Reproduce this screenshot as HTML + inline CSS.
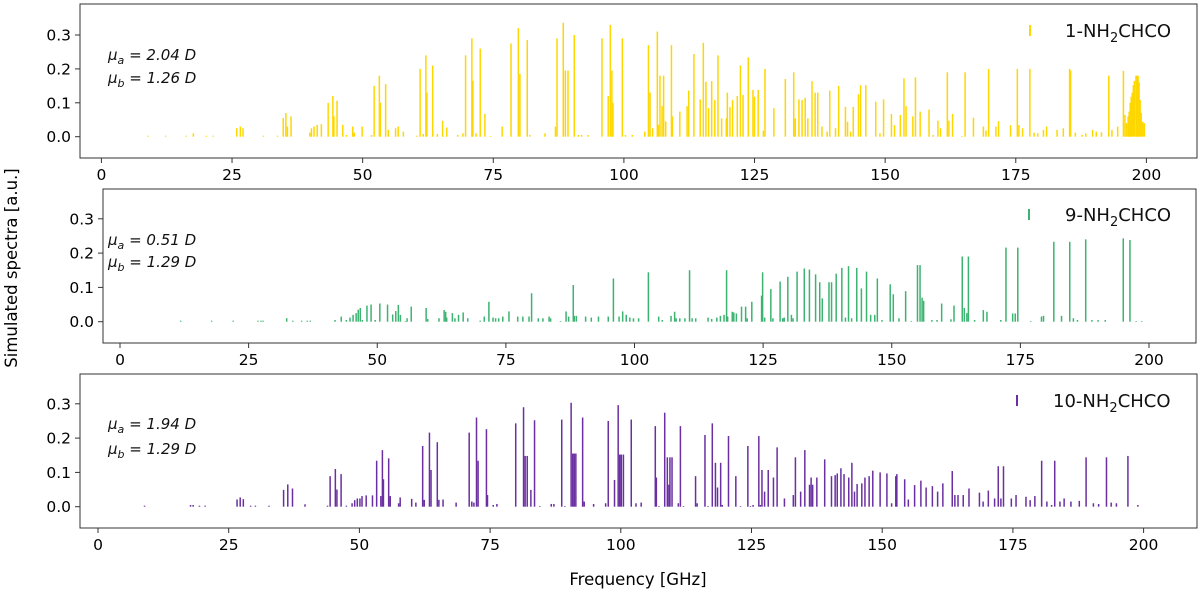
<!DOCTYPE html>
<html><head><meta charset="utf-8"><style>
html,body{margin:0;padding:0;background:#fff}
svg text{font-family:"DejaVu Sans","Liberation Sans",sans-serif}
</style></head><body>
<svg id="chart" width="1200" height="595" xmlns="http://www.w3.org/2000/svg"></svg>
<script>
// ---- data (frequency GHz, intensity a.u.) ----
const freq1=[8.9,12.3,16.2,17.6,20.1,21.4,25.9,26.6,27.1,31,33.7,34.8,35.3,35.6,36.3,39.9,40.2,40.7,41.3,42.1,43.4,44.3,44.5,45.1,46.2,46.9,48.1,48.4,49.9,51.7,52.2,53.2,53.4,54.4,54.9,56.3,56.8,57.8,60.4,61,61.6,62.1,62.3,63.4,64.3,65.3,66.1,68.2,69.2,69.7,70.9,71.1,71.7,72.5,73.4,74.5,76.7,78.4,79.8,80.1,81.5,82,84.9,86.9,87.2,88.4,88.8,89.3,90.5,91.3,91.9,93.1,95.8,97,97.4,97.7,97.9,99.7,100.3,101.6,
104,104.7,105,105.5,106.4,106.6,106.9,107.3,107.6,108,109.1,109.3,110.7,112.1,112.4,113.4,114.6,115.2,115.7,116.2,116.8,117.4,118,118.7,119.6,119.8,120.3,120.8,121.7,122.3,122.8,123.8,124.7,125,125.7,126.7,127,128.7,130.9,132.5,132.8,133.5,134.1,134.7,135.2,136,136.6,137.1,137.9,138.9,139.4,140.5,141.1,142.4,142.8,143.4,143.9,144.9,145.3,146.3,148.2,149,149.7,151.2,151.8,152.9,153.6,154,155.3,155.8,156.7,158.4,159.2,160.1,160.6,161.9,162.2,162.9,164.7,165.3,166.9,168.8,169.3,169.8,171.2,171.7,174,175.3,175.6,176.3,177.7,178.5,179.2,180.3,180.9,182.9,184.1,185.3,185.5,186.4,187.7,188.4,189.7,190.4,191.4,192.8,193.4,194.5,195.6,195.9,196.2,196.5,196.7,196.9,197.1,197.3,197.5,197.7,198,198.2,198.4,198.6,198.8,199,199.3,199.6];
const inten1=[0.003,0.003,0.003,0.01,0.003,0.003,0.025,0.03,0.025,0.003,0.003,0.055,0.07,0.03,0.06,0.012,0.025,0.03,0.035,0.037,0.1,0.12,0.06,0.106,0.035,0.005,0.03,0.012,0.03,0.005,0.15,0.18,0.1,0.155,0.02,0.025,0.03,0.015,0.003,0.2,0.008,0.24,0.13,0.21,0.008,0.047,0.027,0.005,0.01,0.24,0.29,0.165,0.01,0.26,0.067,0.002,0.03,0.275,0.32,0.185,0.285,0.005,0.01,0.03,0.29,0.336,0.195,0.195,0.3,0.005,0.005,0.005,0.29,0.12,0.33,0.195,0.1,0.29,0.005,0.005,
0.015,0.27,0.13,0.025,0.31,0.035,0.18,0.09,0.18,0.045,0.27,0.06,0.074,0.09,0.136,0.244,0.11,0.277,0.162,0.084,0.164,0.108,0.24,0.054,0.054,0.13,0.087,0.108,0.12,0.21,0.123,0.234,0.138,0.118,0.138,0.018,0.2,0.084,0.17,0.19,0.054,0.11,0.108,0.115,0.054,0.164,0.13,0.13,0.03,0.015,0.136,0.025,0.15,0.088,0.044,0.015,0.088,0.125,0.152,0.152,0.103,0.01,0.11,0.067,0.034,0.064,0.172,0.09,0.06,0.175,0.074,0.08,0.005,0.047,0.025,0.19,0.047,0.067,0.002,0.19,0.056,0.03,0.018,0.2,0.03,0.046,0.034,0.2,0.034,0.025,0.2,0.012,0.01,0.02,0.03,0.02,0.025,0.2,0.195,0.012,0.005,0.01,0.02,0.015,0.013,0.18,0.02,0.03,0.194,0.064,0.04,0.06,0.074,0.1,0.118,0.13,0.152,0.165,0.18,0.18,0.18,0.16,0.108,0.07,0.044,0.04];
const freq2=[11.8,17.8,22,26.8,27.4,27.8,32.4,33.6,35.3,36.4,37,41.8,43,44,44.7,45.3,45.9,46.3,46.7,47.1,48,48.8,49.6,50.5,52,53,53.6,54.1,54.5,55.5,55.8,56.6,59.5,59.8,62,63,63.3,63.5,64.6,65.1,65.8,66.7,67.6,70,70.8,71.7,72.5,73,73.6,74.4,75.6,77.3,78.3,79.5,80,81.3,82.2,83.4,83.7,85.6,86.7,87.2,88.1,88.3,88.7,90.5,91.6,93,94.9,95.9,97,97.7,98.4,99.1,99.8,100.8,
102.7,104.7,105.4,107.1,107.8,108.1,108.8,109.8,110.7,111.2,111.9,114.3,115,116,116.7,117.4,117.9,118.1,119,119.3,119.8,120.8,121.6,121.9,122.8,124.7,124.9,125.3,126.5,126.9,128.3,128.8,129.1,129.8,130.5,130.8,131.6,133,134,135.2,136,136.5,137.8,138.3,139.2,140.3,141,141.6,142.2,143.2,144.1,145.1,145.9,146.7,147.2,148.1,149.7,150.3,151.4,152.7,153.8,155,155.5,155.9,156.2,157.8,158.8,159.7,161.5,162.1,163.7,164.1,164.6,164.9,166.1,167.8,168.5,171.2,172.2,173.5,174,174.5,177,179.1,179.5,181.5,183,184.6,185.3,186.1,187.7,188.9,190.1,191.5,195,196.3,197.5,198.6];
const inten2=[0.003,0.003,0.003,0.003,0.003,0.003,0.01,0.003,0.003,0.003,0.003,0.005,0.015,0.005,0.012,0.02,0.025,0.035,0.04,0.005,0.047,0.05,0.005,0.053,0.05,0.021,0.031,0.049,0.02,0.002,0.01,0.044,0.04,0.008,0.01,0.034,0.029,0.012,0.025,0.01,0.02,0.027,0.01,0.003,0.015,0.058,0.012,0.01,0.01,0.015,0.03,0.015,0.015,0.015,0.083,0.01,0.01,0.015,0.01,0.002,0.03,0.015,0.107,0.017,0.017,0.015,0.012,0.015,0.015,0.126,0.015,0.03,0.02,0.012,0.01,0.01,
0.144,0.015,0.005,0.017,0.029,0.01,0.01,0.01,0.15,0.01,0.01,0.012,0.008,0.012,0.017,0.02,0.15,0.015,0.029,0.027,0.024,0.044,0.044,0.01,0.058,0.076,0.144,0.012,0.095,0.01,0.117,0.01,0.012,0.131,0.02,0.01,0.146,0.155,0.152,0.138,0.115,0.068,0.115,0.115,0.14,0.157,0.012,0.162,0.01,0.157,0.097,0.146,0.02,0.02,0.126,0.005,0.109,0.08,0.01,0.089,0.002,0.165,0.165,0.07,0.061,0.005,0.005,0.053,0.007,0.047,0.19,0.04,0.025,0.19,0.005,0.034,0.029,0.005,0.216,0.024,0.024,0.216,0.002,0.015,0.017,0.233,0.017,0.233,0.01,0.005,0.24,0.005,0.005,0.005,0.243,0.238,0.002,0.002];
const freq3=[8.9,17.7,18.2,19.4,20.5,26.6,27.2,27.8,29.2,30.1,32.7,35.5,36.3,37.2,39.6,43.9,44.4,45.4,45.7,46.5,47.5,48.6,49.1,49.6,50.1,50.5,51.3,52.5,53.3,54.1,54.4,54.6,55.6,55.9,57.5,57.8,60,60.8,62.1,62.4,63.4,63.7,64.9,65.2,66,68.5,71,71.5,71.9,72.4,72.7,74.3,74.5,75.6,76.3,79.9,81.4,81.7,82.1,82.8,83.5,84.5,86.7,87.2,88.7,89.3,90.5,90.8,91.1,91.4,92.7,93,94.8,97.1,97.6,98.8,99.5,99.8,100.1,100.5,102,102.9,
103.9,106.6,106.8,107.3,108.4,108.9,109.2,109.4,109.8,111,111.4,112,114.3,114.6,116.1,116.7,117.5,118.1,118.5,119.1,119.4,120.6,122,122.9,124.3,124.8,125.3,126.4,126.7,127,127.5,128.2,129.2,129.9,131.3,133,133.4,134.4,135.2,136.1,136.4,136.7,137.5,139,140.3,141,141.4,142.1,142.7,143.6,144.2,144.7,145.2,146.1,146.7,147.5,148.2,149.6,150.9,151.8,152.6,152.8,154.3,155,156.2,157.4,158.4,159.6,160.6,161.6,163.4,163.9,164.5,165.5,166.6,168.6,169.3,170.3,171.5,172.2,172.7,173.2,174.7,175.6,177.5,178.3,179.2,180.5,181.5,182.4,183,184,184.8,186.1,187.7,189,190.4,191.4,192.9,193.8,194.8,197,198.9];
const inten3=[0.003,0.005,0.005,0.003,0.003,0.021,0.027,0.022,0.003,0.003,0.003,0.049,0.065,0.053,0.007,0.003,0.089,0.11,0.05,0.095,0.003,0.01,0.019,0.024,0.024,0.031,0.033,0.033,0.134,0.031,0.165,0.08,0.141,0.031,0.01,0.027,0.023,0.012,0.177,0.02,0.216,0.107,0.188,0.02,0.021,0.012,0.216,0.015,0.012,0.26,0.134,0.226,0.034,0.005,0.008,0.243,0.29,0.148,0.148,0.049,0.252,0.002,0.008,0.008,0.254,0.002,0.303,0.155,0.155,0.155,0.26,0.015,0.008,0.01,0.25,0.078,0.296,0.152,0.152,0.152,0.254,0.01,
0.012,0.235,0.085,0.002,0.274,0.144,0.064,0.144,0.144,0.01,0.235,0.002,0.089,0.01,0.209,0.002,0.243,0.128,0.056,0.128,0.005,0.206,0.089,0.002,0.177,0.002,0.005,0.206,0.005,0.107,0.044,0.107,0.085,0.173,0.024,0.034,0.144,0.044,0.165,0.064,0.085,0.064,0.085,0.138,0.089,0.092,0.097,0.112,0.095,0.085,0.128,0.044,0.066,0.068,0.085,0.089,0.105,0.1,0.097,0.01,0.089,0.095,0.08,0.021,0.063,0.076,0.056,0.06,0.044,0.068,0.104,0.034,0.034,0.034,0.053,0.041,0.015,0.047,0.024,0.118,0.024,0.118,0.024,0.034,0.029,0.019,0.031,0.134,0.015,0.005,0.134,0.015,0.024,0.015,0.017,0.144,0.01,0.008,0.144,0.012,0.01,0.148,0.005];
const yTicks=[0.0,0.1,0.2,0.3];
const xTicks=[0,25,50,75,100,125,150,175,200];
const panels=[
 {id:'panel-1',f:freq1,v:inten1,color:'#FFD700',L:80,R:1197,T:4,B:158,x0:101.4,sx:5.225,y0:136.7,sy:339,ma:'2.04',mb:'1.26',label:'1-',ann:[108,60,83],leg:[1030,1065,37]},
 {id:'panel-2',f:freq2,v:inten2,color:'#3CB371',L:103,R:1196,T:189,B:343,x0:120,sx:5.145,y0:321.7,sy:343,ma:'0.51',mb:'1.29',label:'9-',ann:[108,245,267],leg:[1029,1065,221]},
 {id:'panel-3',f:freq3,v:inten3,color:'#6A2FA0',L:80,R:1197,T:374,B:528,x0:98,sx:5.228,y0:506.7,sy:343,ma:'1.94',mb:'1.29',label:'10-',ann:[108,429,454],leg:[1017,1053,407]}
];
const NS='http://www.w3.org/2000/svg';
const svg=document.getElementById('chart');
function mk(tag,attrs,parent){const e=document.createElementNS(NS,tag);for(const k in attrs)e.setAttribute(k,attrs[k]);(parent||svg).appendChild(e);return e;}
panels.forEach(p=>{
 const g=mk('g',{});
 
 
 const X=f=>p.x0+f*p.sx, Y=v=>p.y0-v*p.sy;
 p.f.forEach((f,i)=>{
  const l=mk('line',{x1:X(f),x2:X(f),y1:p.y0,y2:Y(p.v[i]),stroke:p.color,'stroke-width':1.5},g);
  
  
 });
 const fr=mk('rect',{x:p.L,y:p.T,width:p.R-p.L,height:p.B-p.T,fill:'none',stroke:'#333','stroke-width':1},g);
 
 
 yTicks.forEach(t=>{
  mk('line',{x1:p.L-5,x2:p.L,y1:Y(t),y2:Y(t),stroke:'#333'},g);
  const tx=mk('text',{x:p.L-9,y:Y(t)+5.5,'text-anchor':'end','font-size':15.5,fill:'#000'},g);
  tx.textContent=t.toFixed(1);
  
  
 });
 xTicks.forEach(t=>{
  mk('line',{x1:X(t),x2:X(t),y1:p.B,y2:p.B+5,stroke:'#333'},g);
  const tx=mk('text',{x:X(t),y:p.B+22,'text-anchor':'middle','font-size':15.5,fill:'#000'},g);
  tx.textContent=t;
  
  
 });
 const a1=mk('text',{x:p.ann[0],y:p.ann[1],'font-size':15,'font-style':'italic',fill:'#111'},g);
 a1.innerHTML='μ<tspan font-size="11" dy="4">a</tspan><tspan dy="-4"> = '+p.ma+' D</tspan>';
 
 
 const a2=mk('text',{x:p.ann[0],y:p.ann[2],'font-size':15,'font-style':'italic',fill:'#111'},g);
 a2.innerHTML='μ<tspan font-size="11" dy="4">b</tspan><tspan dy="-4"> = '+p.mb+' D</tspan>';
 
 
 const lm=mk('line',{x1:p.leg[0],x2:p.leg[0],y1:p.leg[2]-12,y2:p.leg[2]-1,stroke:p.color,'stroke-width':2},g);
 
 
 const lt=mk('text',{x:p.leg[1],y:p.leg[2],'font-size':18,fill:'#111'},g);
 lt.innerHTML=p.label+'NH<tspan font-size="13" dy="5">2</tspan><tspan dy="-5">CHCO</tspan>';
 
 
});
const yl=mk('text',{x:0,y:0,transform:'translate(17,268) rotate(-90)','text-anchor':'middle','font-size':16.5,fill:'#000'});
yl.textContent='Simulated spectra [a.u.]';


const xl=mk('text',{x:638,y:585,'text-anchor':'middle','font-size':16.5,fill:'#000'});
xl.textContent='Frequency [GHz]';


</script>
</body></html>
